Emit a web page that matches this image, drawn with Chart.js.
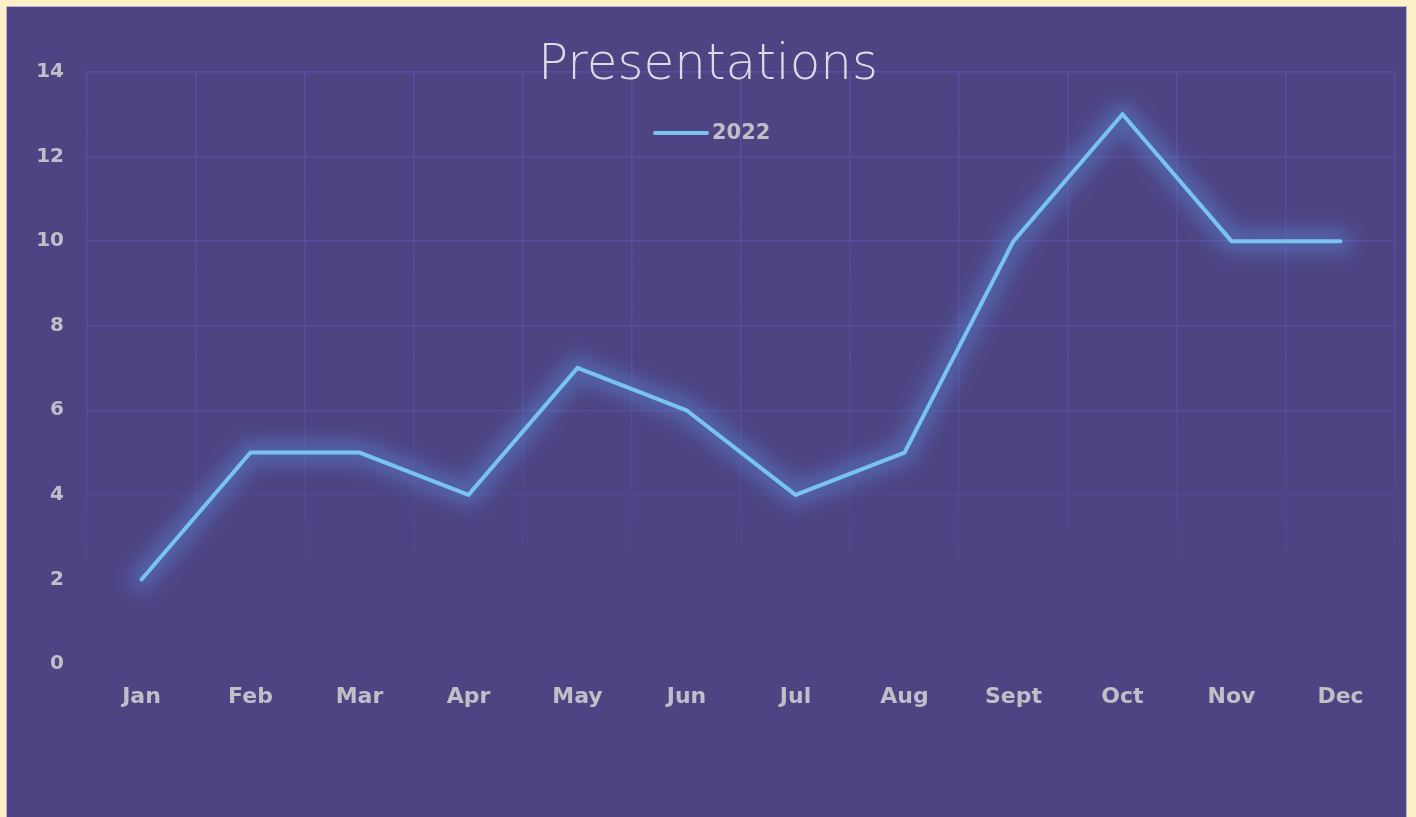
<!DOCTYPE html>
<html>
<head>
<meta charset="utf-8">
<script src="https://cdn.jsdelivr.net/npm/chart.js@4"></script>
<style>
  html, body { margin: 0; padding: 0; background: #FDF0C6; width: 1416px; height: 817px; overflow: hidden; }
  #panel { position: absolute; left: 6px; top: 6px; width: 1401px; height: 811px; background: #4E4483; border: 1px solid #B9B0D8; border-bottom: none; box-sizing: border-box; }
  canvas { position: absolute; left: 0; top: 0; }
</style>
</head>
<body>
<div id="panel"><canvas id="c" width="1399" height="810"></canvas></div>
<script>
const categories = ['Jan', 'Feb', 'Mar', 'Apr', 'May', 'Jun', 'Jul', 'Aug', 'Sept', 'Oct', 'Nov', 'Dec'];
const values2022 = [2, 5, 5, 4, 7, 6, 4, 5, 10, 13, 10, 10];
const seriesLabel = '2022';
const chartTitle = 'Presentations';
const yTicks = [0, 2, 4, 6, 8, 10, 12, 14];

const lineColor = '#78C3EF';
const tickColor = '#C0BEC6';
const gridRGB = '89,77,162';
const tickFont = 'DejaVu Sans';

function gridColor(ctx) {
  const chart = ctx.chart;
  const a = chart.chartArea;
  if (!a) return 'rgba(' + gridRGB + ',1)';
  const g = chart.ctx.createLinearGradient(0, a.top, 0, a.bottom);
  g.addColorStop(0, 'rgba(' + gridRGB + ',1)');
  g.addColorStop(0.55, 'rgba(' + gridRGB + ',0.85)');
  g.addColorStop(0.72, 'rgba(' + gridRGB + ',0.4)');
  g.addColorStop(0.87, 'rgba(' + gridRGB + ',0)');
  g.addColorStop(1, 'rgba(' + gridRGB + ',0)');
  return g;
}

const glowPlugin = {
  id: 'glow',
  beforeDatasetDraw(chart, args) {
    const meta = chart.getDatasetMeta(args.index);
    const pts = meta.data;
    const c = chart.ctx;
    c.save();
    c.filter = 'blur(9px)';
    c.strokeStyle = 'rgba(88,140,220,0.45)';
    c.lineWidth = 24;
    c.lineJoin = 'round';
    c.lineCap = 'round';
    c.beginPath();
    pts.forEach((p, i) => { if (i === 0) c.moveTo(p.x, p.y); else c.lineTo(p.x, p.y); });
    c.stroke();
    c.restore();
  }
};

const headerPlugin = {
  id: 'header',
  afterDraw(chart) {
    const c = chart.ctx;
    c.save();
    c.fillStyle = '#DCDAE4';
    c.font = '200 50px "DejaVu Sans"';
    c.textAlign = 'center';
    c.textBaseline = 'alphabetic';
    c.fillText(chartTitle, 701, 72);
    // legend
    const ds = chart.data.datasets[0];
    c.strokeStyle = ds.borderColor;
    c.lineWidth = 4;
    c.lineCap = 'round';
    c.beginPath();
    c.moveTo(648, 126);
    c.lineTo(700, 126);
    c.stroke();
    c.fillStyle = tickColor;
    c.font = 'bold 21px "' + tickFont + '"';
    c.textAlign = 'left';
    c.textBaseline = 'middle';
    c.fillText(ds.label, 705, 127);
    c.restore();
  }
};

new Chart(document.getElementById('c'), {
  type: 'line',
  data: {
    labels: categories,
    datasets: [{
      label: seriesLabel,
      data: values2022,
      borderColor: lineColor,
      backgroundColor: lineColor,
      borderWidth: 4,
      borderCapStyle: 'round',
      borderJoinStyle: 'miter',
      pointRadius: 0,
      tension: 0,
      fill: false
    }]
  },
  options: {
    responsive: false,
    animation: false,
    devicePixelRatio: 1,
    layout: { padding: { left: 0, top: 65, right: 11, bottom: 0 } },
    plugins: {
      legend: { display: false },
      title: { display: false },
      tooltip: { enabled: false }
    },
    scales: {
      x: {
        offset: true,
        grid: { offset: true, color: gridColor, lineWidth: 1.5, drawTicks: false },
        border: { display: false },
        ticks: { color: tickColor, font: { family: tickFont, size: 22, weight: 'bold' }, padding: 20 },
        afterFit(s) { s.height = 153; }
      },
      y: {
        min: 0, max: 14,
        afterBuildTicks(s) { s.ticks = yTicks.map(v => ({ value: v })); },
        grid: { color: gridColor, lineWidth: 1.5, drawTicks: false },
        border: { display: false },
        ticks: { color: tickColor, font: { family: tickFont, size: 20, weight: 'bold' }, padding: 23 },
        afterFit(s) { s.width = 80; }
      }
    }
  },
  plugins: [glowPlugin, headerPlugin]
});
</script>
</body>
</html>
